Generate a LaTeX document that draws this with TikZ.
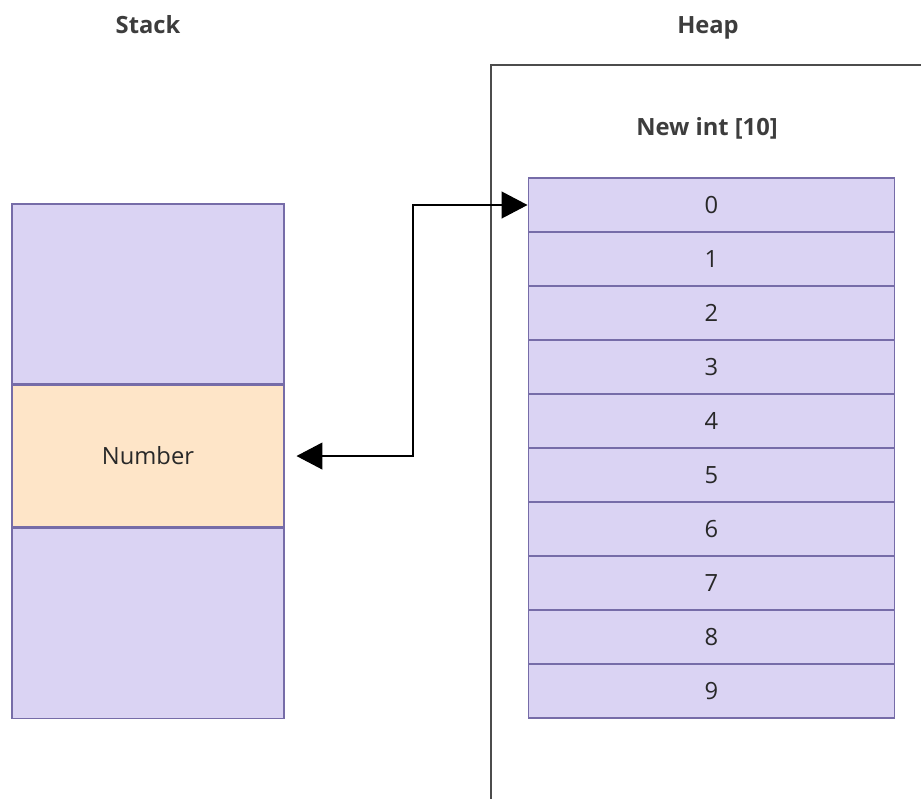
\documentclass[tikz,border=0pt]{standalone}
\usepackage{fontspec}
\setmainfont{Open Sans}
\usetikzlibrary{positioning,calc,arrows.meta}
\definecolor{slotfill}{RGB}{218,211,243}
\definecolor{slotline}{RGB}{118,108,168}
\definecolor{varfill}{RGB}{254,229,200}
\definecolor{ink}{RGB}{40,40,40}
\tikzset{slot/.style={draw=slotline,fill=slotfill,line width=0.6pt,inner sep=0pt,font=\fontsize{13.5}{15}\selectfont,text=ink}}
\tikzset{cell/.style={slot,minimum width=7.34cm,minimum height=1.08cm}}
\tikzset{frame/.style={draw=black!70,line width=0.7pt}}
\tikzset{title/.style={font=\fontsize{13.5}{15}\selectfont\bfseries,text=ink!90,anchor=base}}
\tikzset{link/.style={arrows={Triangle[length=0.52cm,width=0.54cm]-Triangle[length=0.52cm,width=0.54cm]},line width=0.7pt}}

\begin{document}
\begin{tikzpicture}[x=0.02cm,y=-0.02cm]
  \useasboundingbox (0,0) rectangle (921,799);
  % titles
  \node[title] (stack) at (148,33) {Stack};
  \node[title] (heap) at (708,33) {Heap};

  % heap region
  \draw[frame] (921,65) -- (491,65) -- (491,799);
  \node[title] (new) at (707,135) {New int [10]};
  \foreach \i in {0,...,9}
    \node[cell] (c\i) at (711.5,{205+54*\i}) {\i};

  % stack frame with the variable
  \node[slot,minimum width=5.44cm,minimum height=3.6cm] (top) at (148,294) {};
  \node[slot,fill=varfill,minimum width=5.44cm,minimum height=2.84cm,below=0pt of top] (num) {Number};
  \node[slot,minimum width=5.44cm,minimum height=3.8cm,below=0pt of num] (bot) {};

  % reference from the variable to the array
  \coordinate (bend) at (413,330);
  \draw[link,shorten <=0.24cm] (num.east) -| (bend) |- (c0.west);
\end{tikzpicture}
\end{document}
